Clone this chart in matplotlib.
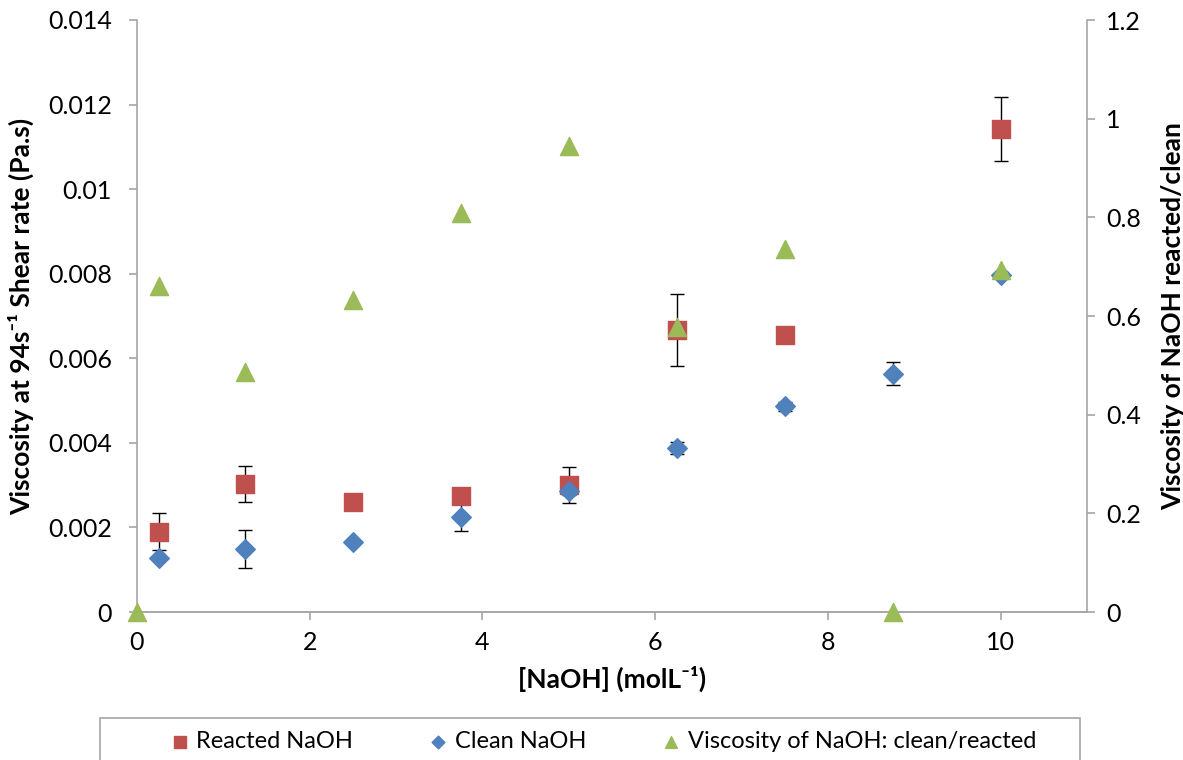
import matplotlib
matplotlib.use("Agg")
import matplotlib.pyplot as plt
from matplotlib.patches import Rectangle

plt.rcParams['font.family'] = ['Lato', 'DejaVu Sans']

# ---- data ----
conc = [0.25, 1.25, 2.5, 3.75, 5.0, 6.25, 7.5, 10.0]
reacted = [0.0019, 0.00303, 0.00261, 0.00274, 0.0030, 0.00667, 0.00656, 0.01142]
reacted_err = [0.00043, 0.00043, 0.0, 0.0001, 0.00042, 0.00086, 0.0, 0.00076]

conc_clean = [0.25, 1.25, 2.5, 3.75, 5.0, 6.25, 7.5, 8.75, 10.0]
clean = [0.00127, 0.00148, 0.00166, 0.00225, 0.00287, 0.00388, 0.00486, 0.00564, 0.00797]
clean_err = [0.00005, 0.00045, 0.0, 0.00033, 0.0001, 0.00014, 0.0001, 0.00028, 0.00008]

conc_ratio = [0.0, 0.25, 1.25, 2.5, 3.75, 5.0, 6.25, 7.5, 8.75, 10.0]
ratio = [0.0, 0.661, 0.486, 0.632, 0.809, 0.945, 0.578, 0.736, 0.0, 0.693]

red = '#C0504D'
blue = '#4F81BD'
green = '#9BBB59'
grey = '#A6A6A6'

fig = plt.figure(figsize=(11.83, 7.6), dpi=100)
ax = fig.add_axes([137/1183, 1-612/760, (1087-137)/1183, (612-20)/760])
ax2 = ax.twinx()

ax.errorbar(conc, reacted, yerr=reacted_err, fmt='none', ecolor='black',
            elinewidth=1, capsize=5, capthick=1, zorder=2)
ax.errorbar(conc_clean, clean, yerr=clean_err, fmt='none', ecolor='black',
            elinewidth=1, capsize=5, capthick=1, zorder=2)
h1 = ax.scatter(conc, reacted, marker='s', s=170, color=red, zorder=3, label='Reacted NaOH')
h2 = ax.scatter(conc_clean, clean, marker='D', s=100, color=blue, zorder=4, label='Clean NaOH')
h3 = ax2.scatter(conc_ratio, ratio, marker='^', s=170, color=green, zorder=5,
                 label='Viscosity of NaOH: clean/reacted', clip_on=False)

ax.set_xlim(0, 11)
ax.set_ylim(0, 0.014)
ax2.set_ylim(0, 1.2)
ax.set_xticks([0, 2, 4, 6, 8, 10])
ax.set_yticks([0, 0.002, 0.004, 0.006, 0.008, 0.01, 0.012, 0.014])
ax.set_yticklabels(['0', '0.002', '0.004', '0.006', '0.008', '0.01', '0.012', '0.014'])
ax2.set_yticks([0, 0.2, 0.4, 0.6, 0.8, 1.0, 1.2])
ax2.set_yticklabels(['0', '0.2', '0.4', '0.6', '0.8', '1', '1.2'])

for a in (ax, ax2):
    a.spines['top'].set_visible(False)
    for s in ('left', 'right', 'bottom'):
        a.spines[s].set_color(grey)
        a.spines[s].set_linewidth(1.2)
    a.tick_params(axis='both', colors=grey, labelcolor='black', labelsize=18,
                  length=6, width=1.2, direction='out')
ax.tick_params(axis='y', pad=12)
ax.tick_params(axis='x', pad=8)
ax2.tick_params(axis='y', pad=8)
ax2.spines['left'].set_visible(False)
ax.spines['right'].set_visible(False)

lab = dict(fontsize=19, fontweight='bold', family=['Lato', 'DejaVu Sans'])
ax.set_xlabel('[NaOH] (molL\u207b\u00b9)', labelpad=8, **lab)
ax.set_ylabel('Viscosity at 94s\u207b\u00b9 Shear rate (Pa.s)', labelpad=10, **lab)
ax2.set_ylabel('Viscosity of NaOH reacted/clean', labelpad=14, **lab)

fig.patches.append(Rectangle((100/1183, -0.05), (1080-100)/1183, 0.05 + (760-718)/760,
                             transform=fig.transFigure, fill=False,
                             edgecolor=grey, linewidth=1.2))
fig.legend(handles=[h1, h2, h3], loc='center', bbox_to_anchor=(0.508, 1-742/760),
           ncol=3, frameon=False, fontsize=17, markerscale=0.65,
           handletextpad=0.1, columnspacing=3.0, handlelength=1.2)

fig.savefig('out.png', dpi=100)
